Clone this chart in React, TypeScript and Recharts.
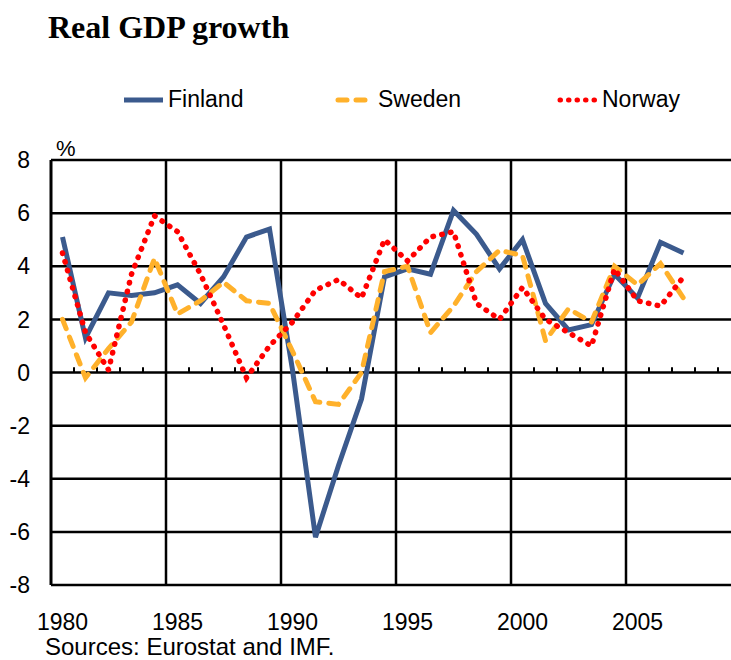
import React from "react";
import {
  LineChart,
  Line,
  XAxis,
  YAxis,
  CartesianGrid,
  ReferenceLine,
} from "recharts";

const years = [
  1980, 1981, 1982, 1983, 1984, 1985, 1986, 1987, 1988, 1989, 1990, 1991, 1992, 1993,
  1994, 1995, 1996, 1997, 1998, 1999, 2000, 2001, 2002, 2003, 2004, 2005, 2006, 2007,
];
const finland = [
  5.1, 1.3, 3.0, 2.9, 3.0, 3.3, 2.6, 3.6, 5.1, 5.4, 0.1, -6.2, -3.5, -1.0,
  3.6, 3.9, 3.7, 6.1, 5.2, 3.9, 5.0, 2.6, 1.6, 1.8, 3.7, 2.8, 4.9, 4.5,
];
const sweden = [
  2.0, -0.2, 0.9, 1.9, 4.3, 2.2, 2.7, 3.4, 2.7, 2.6, 0.8, -1.1, -1.2, 0.0,
  3.8, 4.0, 1.5, 2.5, 3.8, 4.6, 4.4, 1.2, 2.4, 1.9, 4.0, 3.3, 4.1, 2.8,
];
const norway = [
  4.5, 1.5, 0.1, 3.7, 5.9, 5.3, 3.7, 1.8, -0.2, 1.0, 1.9, 3.1, 3.5, 2.8,
  5.0, 4.2, 5.1, 5.3, 2.6, 2.0, 3.2, 2.0, 1.5, 1.0, 3.9, 2.7, 2.5, 3.6,
];
const xTicks = [1980, 1985, 1990, 1995, 2000, 2005];
const yTicks = [-8, -6, -4, -2, 0, 2, 4, 6, 8];
// grid lines sit between categories
const vGrid = [1984.5, 1989.5, 1994.5, 1999.5, 2004.5, 2009.5];
const minorTicks = Array.from({ length: 29 }, (_, i) => 1980.5 + i);

const data = years.map((year, i) => ({
  year,
  Finland: finland[i],
  Sweden: sweden[i],
  Norway: norway[i],
}));

const SANS = "'Liberation Sans', Arial, sans-serif";
const BLUE = "#3b5a8d";
const ORANGE = "#ffb12b";
const RED = "#ff0000";

const legendItems = [
  { name: "Finland", color: BLUE, dash: undefined, cap: "butt", x: 121, w: 42 },
  { name: "Sweden", color: ORANGE, dash: "9 9", cap: "round", x: 335, w: 38 },
  { name: "Norway", color: RED, dash: "0.5 8", cap: "round", x: 557, w: 40 },
];

const App = () => {
  return (
    <div
      style={{
        position: "fixed",
        left: 0,
        top: 0,
        width: 731,
        height: 660,
        overflow: "hidden",
        background: "#fff",
      }}
    >
      <div
        style={{
          position: "absolute",
          left: 48,
          top: 11,
          fontFamily: "'Liberation Serif', 'Times New Roman', serif",
          fontWeight: "bold",
          fontSize: 32,
          lineHeight: "32px",
          whiteSpace: "nowrap",
        }}
      >
        Real GDP growth
      </div>

      {legendItems.map((it) => (
        <div key={it.name}>
          <svg
            style={{ position: "absolute", left: it.x, top: 94 }}
            width={it.w + 4}
            height={12}
          >
            <line
              x1={3}
              x2={it.w}
              y1={6}
              y2={6}
              stroke={it.color}
              strokeWidth={5}
              strokeDasharray={it.dash}
              strokeLinecap={it.cap as any}
            />
          </svg>
          <div
            style={{
              position: "absolute",
              left: it.x + it.w + 5,
              top: 88,
              fontFamily: SANS,
              fontSize: 23,
              lineHeight: "23px",
              whiteSpace: "nowrap",
            }}
          >
            {it.name}
          </div>
        </div>
      ))}

      <div
        style={{
          position: "absolute",
          left: 56,
          top: 138,
          fontFamily: SANS,
          fontSize: 22,
          lineHeight: "22px",
        }}
      >
        %
      </div>

      <div style={{ position: "absolute", left: 0, top: 0 }}>
        <LineChart
          width={760}
          height={660}
          data={data}
          margin={{ top: 160, right: 19, bottom: 0, left: 0 }}
        >
          <CartesianGrid
            vertical={false}
            stroke="#000"
            strokeWidth={2.5}
          />
          <XAxis
            dataKey="year"
            type="number"
            domain={[1979.5, 2009.5]}
            ticks={xTicks}
            interval={0}
            height={75}
            axisLine={false}
            tickLine={false}
            tickSize={0}
            tickMargin={29}
            tick={{ fill: "#000", fontSize: 23, fontFamily: SANS }}
          />
          <YAxis
            domain={[-8, 8]}
            ticks={yTicks}
            interval={0}
            width={51}
            axisLine={{ stroke: "#000", strokeWidth: 3 }}
            tickLine={false}
            tickSize={0}
            tickMargin={0}
            tick={{ fill: "#000", fontSize: 23, fontFamily: SANS, dx: -21 }}
          />
          {vGrid.map((x) => (
            <ReferenceLine key={x} x={x} stroke="#000" strokeWidth={2.5} />
          ))}
          {minorTicks.map((x) => (
            <ReferenceLine
              key={"t" + x}
              segment={[
                { x, y: 0 },
                { x, y: 0.2 },
              ]}
              stroke="#000"
              strokeWidth={2}
            />
          ))}
          <Line
            dataKey="Finland"
            stroke={BLUE}
            strokeWidth={5}
            dot={false}
            type="linear"
            isAnimationActive={false}
          />
          <Line
            dataKey="Sweden"
            stroke={ORANGE}
            strokeWidth={5}
            strokeDasharray="10 9"
            strokeLinecap="round"
            dot={false}
            type="linear"
            isAnimationActive={false}
          />
          <Line
            dataKey="Norway"
            stroke={RED}
            strokeWidth={5.5}
            strokeDasharray="0.5 8.5"
            strokeLinecap="round"
            dot={false}
            type="linear"
            isAnimationActive={false}
          />
        </LineChart>
      </div>

      <div
        style={{
          position: "absolute",
          left: 45,
          top: 635,
          fontFamily: SANS,
          fontSize: 24,
          lineHeight: "24px",
          whiteSpace: "nowrap",
        }}
      >
        Sources: Eurostat and IMF.
      </div>
    </div>
  );
};

export default App;
